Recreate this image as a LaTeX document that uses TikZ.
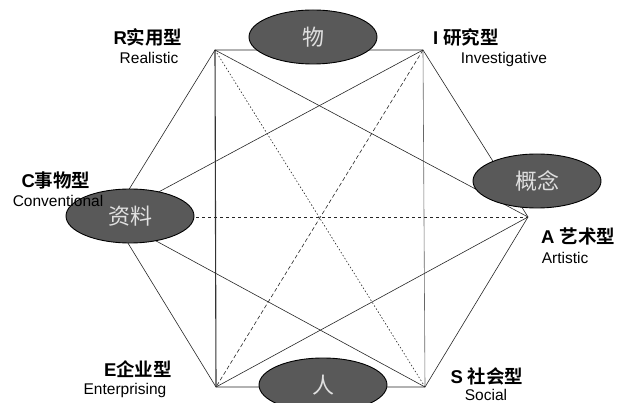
\documentclass[tikz,border=0pt]{standalone}
\usepackage{fontspec}
\setmainfont{Liberation Sans}
\newfontfamily\cjk{Noto Sans CJK SC}[BoldFont={Noto Sans CJK SC Bold}]
\usetikzlibrary{shapes.geometric}
\begin{document}
\begin{tikzpicture}[x=1pt,y=-1pt,
    blob/.style={ellipse,draw=black,line width=0.9pt,fill=black!65,minimum width=128pt,minimum height=54pt,inner sep=0pt,text=white!88!black,font=\cjk\fontsize{22}{22}\selectfont},
    typ/.style={inner sep=1pt,font=\bfseries\fontsize{18.5}{18.5}\selectfont},
    eng/.style={inner sep=1pt,font=\fontsize{15.5}{15.5}\selectfont},
    edge/.style={black!85,line width=0.6pt}]
        \useasboundingbox (0,0) rectangle (621,403);
        % corners of the hexagon
        \coordinate (R) at (215,50);
        \coordinate (I) at (423,50);
        \coordinate (A) at (528,217);
        \coordinate (S) at (425,387);
        \coordinate (E) at (216,387);
        \coordinate (C) at (112,217);

        %HEXAGON
        \draw[edge] (R) -- (I) -- (A) -- (S) -- (E) -- (C) -- cycle;
        %DIAGONALS
        \draw[black!80,line width=1.1pt] (R) -- (E);
        \draw[edge,black!60] (I) -- (S);
        \draw[edge] (R) -- (A);
        \draw[edge] (I) -- (C);
        \draw[edge] (C) -- (S);
        \draw[edge] (E) -- (A);
        \draw[edge,dash pattern=on 1.5pt off 2pt] (R) -- (S);
        \draw[edge,dash pattern=on 4pt off 2.5pt] (I) -- (E);
        \draw[edge,dash pattern=on 3pt off 3pt] (C) -- (A);

        % ellipses
        \node[blob] (wu) at (313,37) {物};
        \node[blob] (gn) at (537,181) {概念};
        \node[blob] (zl) at (130,216) {资料};
        \node[blob] (ren) at (323,385) {人};

        % labels
        \node[typ] (rl) at (148,37) {R\cjk 实用型};
        \node[eng] (re) at (149,58) {Realistic};
        \node[typ] (il) at (466,37) {I \cjk 研究型};
        \node[eng] (ie) at (504,59) {Investigative};
        \node[typ] (cl) at (56,180) {C\cjk 事物型};
        \node[eng] (ce) at (58,201) {Conventional};
        \node[typ] (al) at (578,236) {A \cjk 艺术型};
        \node[eng] (ae) at (565,258) {Artistic};
        \node[typ] (el) at (138,369) {E\cjk 企业型};
        \node[eng] (ee) at (125,390) {Enterprising};
        \node[typ] (sl) at (487,376) {S \cjk 社会型};
        \node[eng] (se) at (486,395) {Social};
    \end{tikzpicture}
\end{document}
